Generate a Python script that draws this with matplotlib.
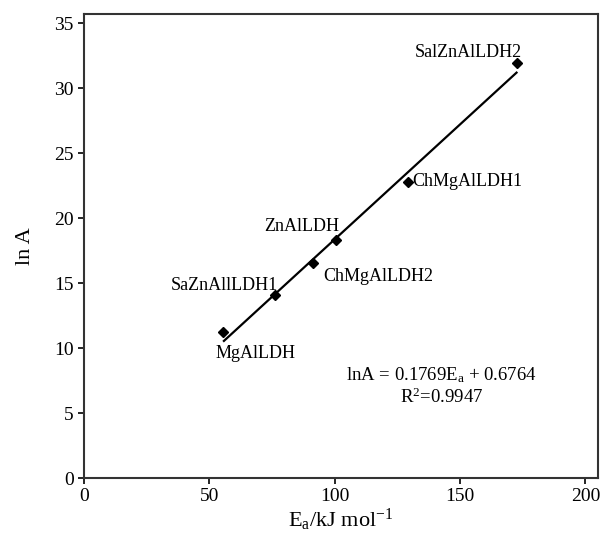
import matplotlib
matplotlib.use("Agg")
import matplotlib.pyplot as plt
import numpy as np

plt.rcParams['font.family'] = ['Liberation Serif', 'DejaVu Serif']
plt.rcParams['mathtext.fontset'] = 'custom'
plt.rcParams['mathtext.rm'] = 'Liberation Serif'
plt.rcParams['mathtext.it'] = 'Liberation Serif'

names = ["MgAlLDH", "SaZnAllLDH1", "ChMgAlLDH2", "ZnAlLDH", "ChMgAlLDH1", "SalZnAlLDH2"]
ea = [55.5, 76.0, 91.2, 100.5, 129.1, 172.8]
lnA = [11.2, 14.1, 16.55, 18.3, 22.8, 31.95]
slope = 0.1769
intercept = 0.6764
fit_x = [55.8, 172.5]

fig = plt.figure(figsize=(6, 5.4), dpi=100)
ax = fig.add_axes([0.14, 0.1148, 0.8567, 0.8592])

ax.plot(ea, lnA, linestyle='none', marker='D', markersize=5.5, color='black')
fx = np.array(fit_x)
ax.plot(fx, slope * fx + intercept, color='black', lw=1.6)

ax.set_xlim(0, 205)
ax.set_ylim(0, 35.7)
ax.set_xticks([0, 50, 100, 150, 200])
ax.set_yticks([0, 5, 10, 15, 20, 25, 30, 35])
ax.tick_params(direction='out', length=4, width=1.2, labelsize=14, colors='black')
for s in ax.spines.values():
    s.set_linewidth(1.5)
    s.set_color('#333333')

fs = 13
ax.text(174.6, 32.75, "SalZnAlLDH2", ha='right', va='center', fontsize=fs)
ax.text(131, 22.8, "ChMgAlLDH1", ha='left', va='center', fontsize=fs)
ax.text(72, 19.35, "ZnAlLDH", ha='left', va='center', fontsize=fs)
ax.text(95.5, 15.5, "ChMgAlLDH2", ha='left', va='center', fontsize=fs)
ax.text(77.5, 14.8, "SaZnAllLDH1", ha='right', va='center', fontsize=fs)
ax.text(52.3, 9.6, "MgAlLDH", ha='left', va='center', fontsize=fs)

ax.text(142.5, 7.9, r"lnA = 0.1769E$_\mathrm{a}$ + 0.6764", ha='center', va='center', fontsize=13.5)
ax.text(142.5, 6.2, r"R$^\mathrm{2}$=0.9947", ha='center', va='center', fontsize=13.5)

ax.set_xlabel(r"E$_\mathrm{a}$/kJ mol$^{-1}$", fontsize=16, labelpad=1)
ax.set_ylabel("ln A", fontsize=16, labelpad=14)

fig.savefig("out.png", dpi=100)
